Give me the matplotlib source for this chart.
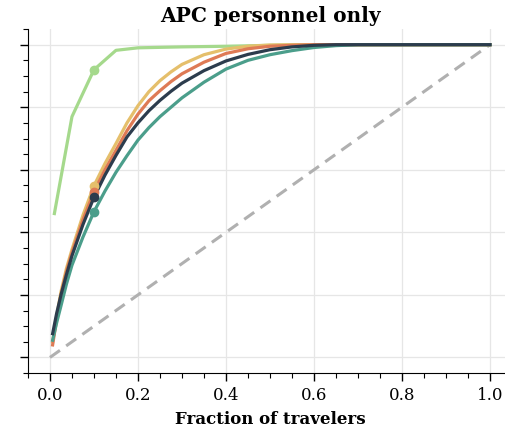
import matplotlib
matplotlib.use("Agg")
import matplotlib.pyplot as plt
import numpy as np
from matplotlib.ticker import MultipleLocator, NullFormatter

# fraction of travelers vs. cumulative share
x_green = [0.01, 0.05, 0.10, 0.15, 0.20, 0.30, 0.40, 0.50, 0.60, 0.70, 0.80, 0.90, 1.00]
y_green = [0.46, 0.77, 0.92, 0.982, 0.99, 0.993, 0.995, 0.998, 1.0, 1.0, 1.0, 1.0, 1.0]

x_all = [0.006, 0.015, 0.025, 0.0375, 0.05, 0.075, 0.10, 0.125, 0.15, 0.175, 0.20, 0.225, 0.25,
         0.275, 0.30, 0.35, 0.40, 0.45, 0.50, 0.55, 0.60, 0.65, 0.70, 0.80, 0.90, 1.00]
y_yellow = [0.05, 0.13, 0.21, 0.285, 0.345, 0.455, 0.549, 0.62, 0.684, 0.75, 0.805, 0.85, 0.885,
            0.913, 0.937, 0.968, 0.986, 0.995, 0.999, 1.0, 1.0, 1.0, 1.0, 1.0, 1.0, 1.0]
y_orange = [0.04, 0.12, 0.20, 0.275, 0.335, 0.44, 0.53, 0.60, 0.662, 0.725, 0.778, 0.821, 0.853,
            0.882, 0.907, 0.944, 0.972, 0.987, 0.995, 0.998, 1.0, 1.0, 1.0, 1.0, 1.0, 1.0]
y_navy = [0.076, 0.14, 0.20, 0.265, 0.325, 0.425, 0.512, 0.583, 0.646, 0.705, 0.75, 0.789, 0.822,
          0.851, 0.877, 0.917, 0.948, 0.969, 0.984, 0.993, 0.998, 1.0, 1.0, 1.0, 1.0, 1.0]
y_teal = [0.055, 0.11, 0.165, 0.235, 0.295, 0.385, 0.466, 0.532, 0.592, 0.645, 0.695, 0.735, 0.77,
          0.80, 0.83, 0.88, 0.922, 0.95, 0.968, 0.981, 0.991, 0.997, 1.0, 1.0, 1.0, 1.0]

marker_x = 0.10

colors = {"green": "#a5d98c", "yellow": "#e5bf6b", "orange": "#de7a55",
          "navy": "#2c3c4d", "teal": "#4b9e8b"}

plt.rcParams['font.family'] = ['DejaVu Serif']

fig = plt.figure(figsize=(5.06, 4.27), dpi=100)
ax = fig.add_axes([0.0553, 0.124, 0.9565, 0.8056])

ax.plot([0, 1], [0, 1], ls=(0, (4, 2.5)), color="#b0b0b0", lw=2.2, zorder=1)

series = [(x_green, y_green, "green"), (x_all, y_yellow, "yellow"),
          (x_all, y_orange, "orange"), (x_all, y_teal, "teal"),
          (x_all, y_navy, "navy")]
for xs, ys, c in series:
    ax.plot(xs, ys, color=colors[c], lw=2.3, zorder=3)
    ax.plot(marker_x, np.interp(marker_x, xs, ys), "o", color=colors[c], ms=6, zorder=4)

ax.set_xlim(-0.05, 1.05)
ax.set_ylim(-0.05, 1.05)
ax.xaxis.set_major_locator(MultipleLocator(0.2))
ax.xaxis.set_minor_locator(MultipleLocator(0.05))
ax.yaxis.set_major_locator(MultipleLocator(0.2))
ax.yaxis.set_minor_locator(MultipleLocator(0.05))
ax.yaxis.set_major_formatter(NullFormatter())
ax.tick_params(which="major", length=6, width=1, labelsize=12)
ax.tick_params(which="minor", length=3.5, width=0.8)
ax.grid(True, which="major", color="#e6e6e6", lw=0.9)
ax.set_axisbelow(True)
for s in ["top", "right"]:
    ax.spines[s].set_visible(False)

ax.set_xlabel("Fraction of travelers", fontsize=12, fontweight="bold", labelpad=5)
ax.set_title("APC personnel only", fontsize=14.5, fontweight="bold", pad=6)

fig.savefig("out.png", dpi=100)
